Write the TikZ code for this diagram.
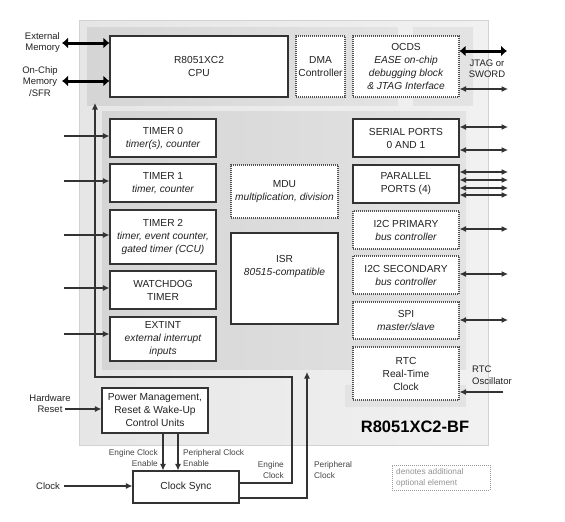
\documentclass[tikz,border=0pt]{standalone}
\usepackage{fontspec}
\setmainfont{Liberation Sans}
\usetikzlibrary{arrows.meta}
\definecolor{txt}{HTML}{222222}
\definecolor{edge}{HTML}{333333}
\definecolor{lbl}{HTML}{444444}
\definecolor{outerA}{HTML}{E6E6E6}
\definecolor{outerB}{HTML}{F1F1F1}
\definecolor{panA}{HTML}{D5D5D5}
\definecolor{panB}{HTML}{E3E3E3}
\begin{document}
\begin{tikzpicture}[x=1pt,y=-1pt,
  blk/.style={draw=edge, line width=1.1pt, fill=white, inner sep=1pt, align=center, text=txt, font=\fontsize{10.2}{13}\selectfont},
  opt/.style={blk, draw=edge!85, dash pattern=on 1pt off 1pt},
  lab/.style={text=txt, font=\fontsize{9.5}{11.5}\selectfont, inner sep=0pt},
  slab/.style={text=lbl, font=\fontsize{8.3}{11}\selectfont, inner sep=0pt},
  tipA/.tip={Latex[length=6.5pt,width=6pt]},
  thin/.style={draw=edge, line width=1.1pt, -tipA},
  dbl/.style={draw=edge, line width=1.1pt, tipA-tipA},
  fat/.style={draw=black, line width=3pt, {Latex[length=6pt,width=11pt]}-{Latex[length=6pt,width=11pt]}},
  wire/.style={draw=edge, line width=1pt}
]
\useasboundingbox (0,0) rectangle (565,522);
% backgrounds
\shade[left color=outerA, right color=outerB] (79,20) rectangle (488,445);
\draw[color=gray!35, line width=0.6pt] (79,20) rectangle (488,445);
\shade[left color=panA, right color=panB] (87,27) rectangle (398,105);
\shade[left color=panB, right color=panB] (413,27) rectangle (473,105);
\shade[left color=panA, right color=panB] (102,111) rectangle (466,369);
\fill[panB] (345,385) rectangle (466,407);

% top row
\node[blk, minimum width=178pt, minimum height=61pt] (cpu) at (199,66.5) {R8051XC2\\CPU};
\node[opt, minimum width=49pt, minimum height=61pt] (dma) at (320.5,66.5) {DMA\\Controller};
\node[opt, minimum width=106pt, minimum height=61pt] (ocds) at (406,66.5) {OCDS\\\itshape EASE on-chip\\\itshape debugging block\\\itshape \& JTAG Interface};

% left column
\node[blk, minimum width=106pt, minimum height=38pt] (t0) at (163,138) {TIMER 0\\\itshape timer(s), counter};
\node[blk, minimum width=106pt, minimum height=38pt] (t1) at (163,183) {TIMER 1\\\itshape timer, counter};
\node[blk, minimum width=106pt, minimum height=54pt] (t2) at (163,237) {TIMER 2\\\itshape timer, event counter,\\\itshape gated timer (CCU)};
\node[blk, minimum width=106pt, minimum height=38pt] (wd) at (163,290) {WATCHDOG\\TIMER};
\node[blk, minimum width=106pt, minimum height=44pt] (ext) at (163,339) {EXTINT\\\itshape external interrupt\\\itshape inputs};

% middle column
\node[opt, minimum width=107pt, minimum height=53pt] (mdu) at (284.5,191.5) {MDU\\\itshape multiplication, division};
\node[blk, minimum width=107pt, minimum height=91pt] (isr) at (284.5,278.5) {};
\node[text=txt, align=center, inner sep=0pt, font=\fontsize{10.2}{13}\selectfont] (isrt) at (284.5,266) {ISR\\\itshape 80515-compatible};

% right column
\node[blk, minimum width=106pt, minimum height=38pt] (ser) at (406,138) {SERIAL PORTS\\0 AND 1};
\node[blk, minimum width=106pt, minimum height=38pt] (par) at (406,184) {PARALLEL\\PORTS (4)};
\node[opt, minimum width=106pt, minimum height=38pt] (i2cp) at (406,230) {I2C PRIMARY\\\itshape bus controller};
\node[opt, minimum width=106pt, minimum height=38pt] (i2cs) at (406,275) {I2C SECONDARY\\\itshape bus controller};
\node[opt, minimum width=106pt, minimum height=37pt] (spi) at (406,320.5) {SPI\\\itshape master/slave};
\node[opt, minimum width=106pt, minimum height=53pt] (rtc) at (406,373.5) {RTC\\Real-Time\\Clock};

% bottom
\node[blk, minimum width=106pt, minimum height=45pt] (pm) at (155,410.5) {Power Management,\\Reset \& Wake-Up\\Control Units};
\node[blk, minimum width=106pt, minimum height=32pt] (cs) at (186,487) {Clock Sync};
\node[draw=gray!80, line width=1pt, dash pattern=on 1pt off 1pt, minimum width=98pt, minimum height=25pt] (leg) at (441,477.5) {};
\node[text=gray!85, font=\fontsize{8.3}{10.5}\selectfont, align=left, anchor=west, inner sep=0pt] (legt) at (396,478) {denotes additional\\optional element};
\node[font=\fontsize{16.5}{18}\bfseries, text=black, inner sep=0pt] (title) at (415,427) {R8051XC2-BF};

% outer labels
\node[lab, align=right, anchor=east] (extml) at (60,42.5) {External\\Memory};
\node[lab, align=center] (ocml) at (40,81.5) {On-Chip\\Memory\\/SFR};
\node[lab, align=center] (jtagl) at (487,68.5) {JTAG or\\SWORD};
\node[lab, align=left, anchor=west] (oscl) at (472,375) {RTC\\Oscillator};
\node[lab, align=center] (hrl) at (50,403.5) {Hardware\\Reset};
\node[lab, anchor=west] (clkl) at (36,486) {Clock};
\node[slab, align=right, anchor=east] (ecel) at (158,458.5) {Engine Clock\\Enable};
\node[slab, align=left, anchor=west] (pcel) at (183,458.5) {Peripheral Clock\\Enable};
\node[slab, align=right, anchor=east] (ecl) at (284,470.5) {Engine\\Clock};
\node[slab, align=left, anchor=west] (pcl) at (314,470.5) {Peripheral\\Clock};

% free ends
\coordinate (extm) at (62,43);
\coordinate (ocm) at (62,81);
\coordinate (jt1) at (507,51);
\coordinate (jt2) at (508,89);
\coordinate (in0) at (64,136);
\coordinate (in1) at (64,181);
\coordinate (in2) at (64,235);
\coordinate (in3) at (64,288);
\coordinate (in4) at (64,334);
\coordinate (s1) at (508,127);
\coordinate (s2) at (508,150);
\coordinate (p1) at (508,172);
\coordinate (p2) at (508,180);
\coordinate (p3) at (508,188);
\coordinate (p4) at (508,195);
\coordinate (q1) at (508,229);
\coordinate (q2) at (508,274);
\coordinate (q3) at (508,320);
\coordinate (osc) at (503,392);
\coordinate (hr) at (65,409);
\coordinate (clk) at (64,486);
\coordinate (ecx) at (163,0);
\coordinate (pcx) at (178,0);
\coordinate (e1) at (292,483);
\coordinate (e2) at (292,377);
\coordinate (e3) at (95,377);
\coordinate (e4) at (95,103);
\coordinate (f1) at (307,498);
\coordinate (f2) at (307,372);

% connectors
\draw[fat] (extm) -- (extm -| cpu.west);
\draw[fat] (ocm) -- (ocm -| cpu.west);
\draw[fat] (jt1 -| ocds.east) -- (jt1);
\draw[dbl] (jt2 -| ocds.east) -- (jt2);
\draw[thin] (in0) -- (in0 -| t0.west);
\draw[thin] (in1) -- (in1 -| t1.west);
\draw[thin] (in2) -- (in2 -| t2.west);
\draw[thin] (in3) -- (in3 -| wd.west);
\draw[thin] (in4) -- (in4 -| ext.west);
\draw[dbl] (s1 -| ser.east) -- (s1);
\draw[dbl] (s2 -| ser.east) -- (s2);
\draw[dbl] (p1 -| par.east) -- (p1);
\draw[dbl] (p2 -| par.east) -- (p2);
\draw[dbl] (p3 -| par.east) -- (p3);
\draw[dbl] (p4 -| par.east) -- (p4);
\draw[dbl] (q1 -| i2cp.east) -- (q1);
\draw[dbl] (q2 -| i2cs.east) -- (q2);
\draw[dbl] (q3 -| spi.east) -- (q3);
\draw[thin] (osc) -- (osc -| rtc.east);
\draw[thin] (hr) -- (hr -| pm.west);
\draw[thin] (clk) -- (clk -| cs.west);
\draw[thin] (pm.south -| ecx) -- (cs.north -| ecx);
\draw[thin] (pm.south -| pcx) -- (cs.north -| pcx);
\draw[thin] (e1 -| cs.east) -- (e1) -- (e2) -- (e3) -- (e4);
\draw[thin] (f1 -| cs.east) -- (f1) -- (f2);
\end{tikzpicture}
\end{document}
